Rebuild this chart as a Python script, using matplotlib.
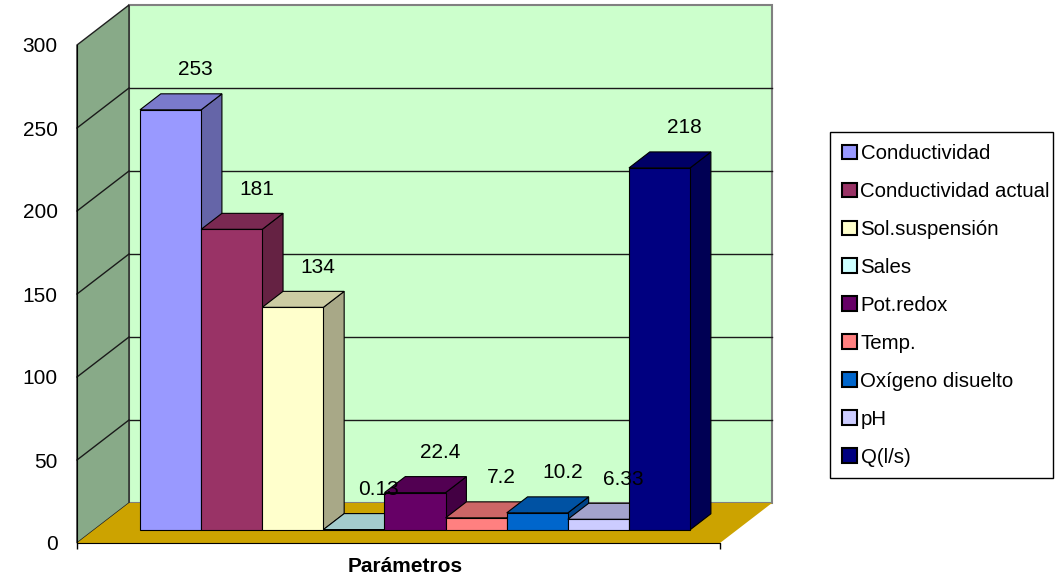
import matplotlib
matplotlib.use('Agg')
import matplotlib.pyplot as plt
from matplotlib.patches import Polygon, Patch, Rectangle
from matplotlib.colors import to_rgb

# ---- data ----
categories = ['Conductividad', 'Conductividad actual', 'Sol.suspensión', 'Sales',
              'Pot.redox', 'Temp.', 'Oxígeno disuelto', 'pH', 'Q(l/s)']
values = [253, 181, 134, 0.13, 22.4, 7.2, 10.2, 6.33, 218]
value_labels = ['253', '181', '134', '0.13', '22.4', '7.2', '10.2', '6.33', '218']
colors = ['#9999FF', '#993366', '#FFFFCC', '#CCFFFF', '#660066',
          '#FF8080', '#0066CC', '#CCCCFF', '#000080']
yticks = [0, 50, 100, 150, 200, 250, 300]
x_title = 'Parámetros'

plt.rcParams['font.family'] = ['Liberation Sans', 'DejaVu Sans']

W, H, DPI = 1060, 577, 100
fig = plt.figure(figsize=(W / DPI, H / DPI), dpi=DPI)
fig.patch.set_facecolor('white')

# front plane of the plot box in pixels
px_l, px_r, px_b, px_t = 77, 720, 543, 45
ax = fig.add_axes([px_l / W, 1 - px_b / H, (px_r - px_l) / W, (px_b - px_t) / H])
n = len(values)
xmin, xmax = -1.25, n - 0.5 + 0.77
ymax = 300
ax.set_xlim(xmin, xmax)
ax.set_ylim(0, ymax)
ax.patch.set_visible(False)

ppx = (px_r - px_l) / (xmax - xmin)
ppy = (px_b - px_t) / ymax
DX = 52 / ppx
DY = 40 / ppy
f0, f1 = 0.33, 0.73  # bar depth fractions


def shade(c, k):
    r, g, b = to_rgb(c)
    return (r * k, g * k, b * k)


wall = '#CCFFCC'
# back wall
ax.add_patch(Polygon([(xmin + DX, DY), (xmax + DX, DY), (xmax + DX, ymax + DY), (xmin + DX, ymax + DY)],
                     closed=True, fc=wall, ec='#808080', lw=1.5, clip_on=False, zorder=0.5))
# left wall
ax.add_patch(Polygon([(xmin, 0), (xmin, ymax), (xmin + DX, ymax + DY), (xmin + DX, DY)],
                     closed=True, fc=shade(wall, 0.667), ec='#202020', lw=1.0, clip_on=False, zorder=0.6))
# gridlines
for v in yticks[1:-1]:
    ax.plot([xmin + DX, xmax + DX], [v + DY, v + DY], color='#1a1a1a', lw=1.0, clip_on=False, zorder=0.7)
    ax.plot([xmin, xmin + DX], [v, v + DY], color='#1a1a1a', lw=1.0, clip_on=False, zorder=0.7)
# floor
ax.add_patch(Polygon([(xmin, 0), (xmax, 0), (xmax + DX, DY), (xmin + DX, DY)],
                     closed=True, fc=shade('#FFCC00', 0.8), ec='none', clip_on=False, zorder=0.8))

# bars
a0, b0 = f0 * DX, f0 * DY
a1, b1 = f1 * DX, f1 * DY
for i, (v, c) in enumerate(zip(values, colors)):
    z = 2 + 3 * i
    ax.add_patch(Polygon([(i + 0.5 + a0, b0), (i + 0.5 + a0, v + b0), (i + 0.5 + a1, v + b1), (i + 0.5 + a1, b1)],
                         closed=True, fc=shade(c, 0.66), ec='black', lw=0.8, clip_on=False, zorder=z))
    ax.add_patch(Polygon([(i - 0.5 + a0, v + b0), (i + 0.5 + a0, v + b0), (i + 0.5 + a1, v + b1), (i - 0.5 + a1, v + b1)],
                         closed=True, fc=shade(c, 0.8), ec='black', lw=0.8, clip_on=False, zorder=z + 1))
    ax.bar(i + a0, v, width=1.0, bottom=b0, color=c, edgecolor='black', lw=0.8,
           clip_on=False, zorder=z + 2)

for i, (v, lbl) in enumerate(zip(values, value_labels)):
    ax.annotate(lbl, (i + a0, v + b0), xytext=(25, 40), textcoords='offset pixels',
                ha='center', va='center', fontsize=15, zorder=100, annotation_clip=False)

# axes styling
for s in ['top', 'right']:
    ax.spines[s].set_visible(False)
ax.spines['left'].set_color('black')
ax.spines['bottom'].set_color('black')
ax.spines['left'].set_zorder(1)
ax.spines['bottom'].set_zorder(1.5)
ax.set_yticks(yticks)
ax.set_yticklabels([str(t) for t in yticks])
ax.tick_params(axis='y', length=0, pad=14, labelsize=15)
ax.set_xticks([xmin, xmax])
ax.set_xticklabels(['', ''])
ax.tick_params(axis='x', direction='out', length=4, width=1)

fig.text(405 / W, 1 - 566 / H, x_title, ha='center', va='center', fontsize=15, fontweight='bold')

# legend frame
fig.add_artist(Rectangle((830 / W, 1 - 478 / H), (1053 - 830) / W, (478 - 132) / H,
                         transform=fig.transFigure, fc='white', ec='black', lw=1.0, zorder=5))
handles = [Patch(fc=c, ec='black', lw=1.5) for c in colors]
leg = fig.legend(handles, categories, loc='upper left', bbox_to_anchor=(836 / W, 1 - 138 / H),
                 bbox_transform=fig.transFigure, fontsize=14.7, frameon=False,
                 handlelength=0.75, handleheight=0.75,
                 handletextpad=0.15, labelspacing=0.93, borderpad=0.3, borderaxespad=0)
leg.set_zorder(6)

fig.savefig('out.png', dpi=DPI)
